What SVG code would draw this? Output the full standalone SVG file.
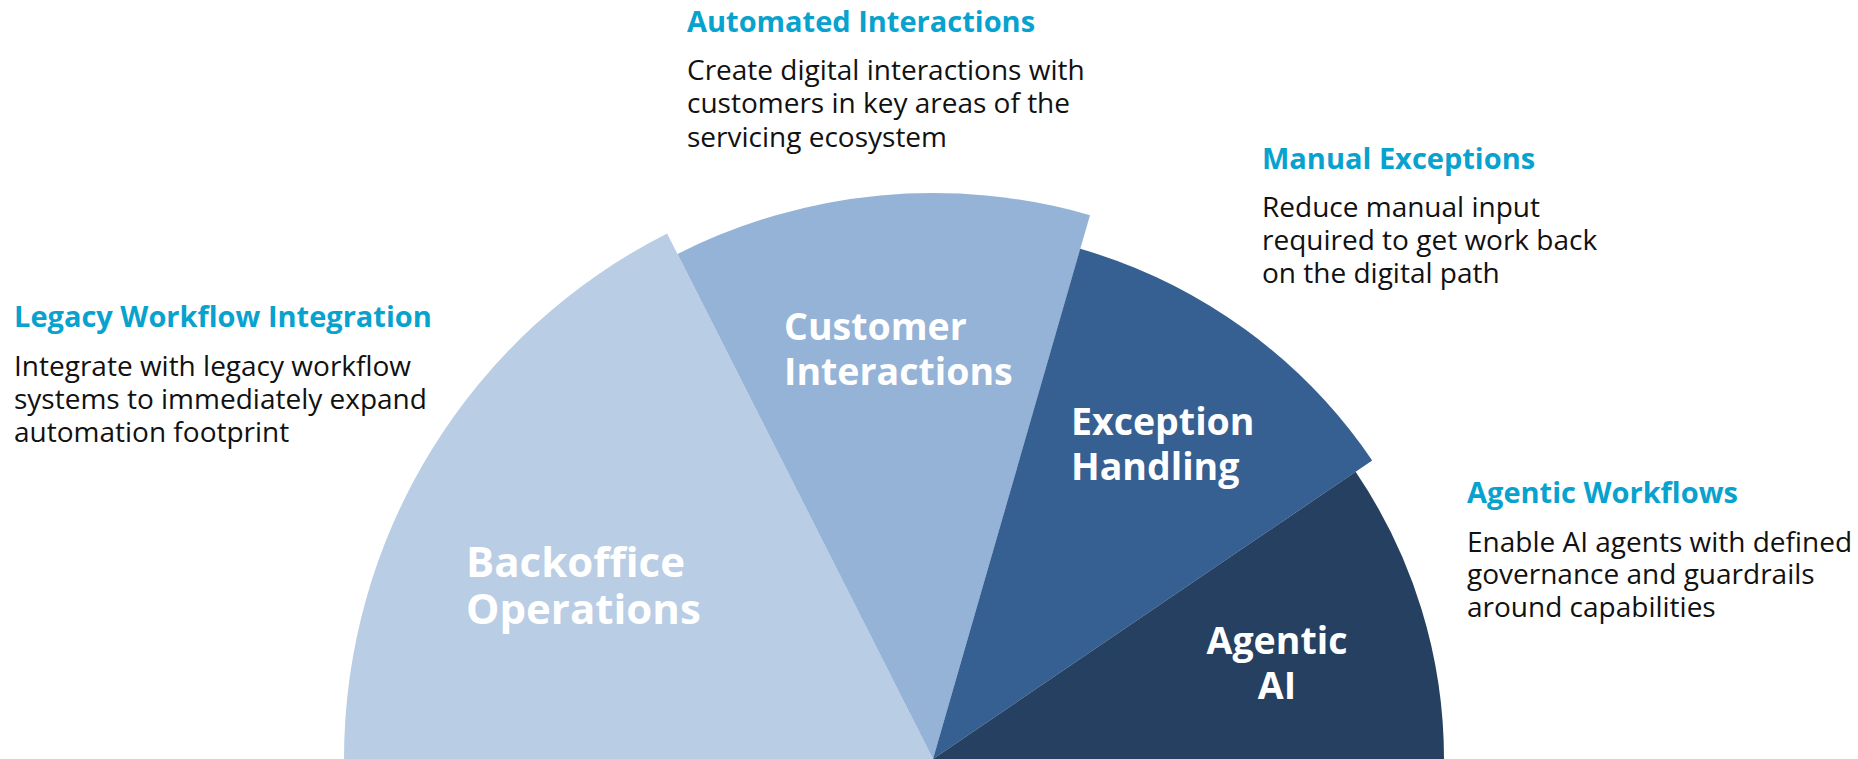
<svg xmlns="http://www.w3.org/2000/svg" width="1858" height="759" viewBox="0 0 1858 759">
  <style>
    .title { font-family: "Open Sans", "Liberation Sans", sans-serif; font-weight: 700; font-size: 29px; fill: #08A2CF; }
    .body { font-family: "Open Sans", "Liberation Sans", sans-serif; font-weight: 400; font-size: 28px; fill: #111111; }
    .label { font-family: "Open Sans", "Liberation Sans", sans-serif; font-weight: 700; font-size: 37.5px; fill: #FFFFFF; }
    .label-lg { font-size: 42px; }
  </style>
  <rect x="0" y="0" width="1858" height="759" fill="#FFFFFF"/>

  <g id="backoffice-operations">
    <path d="M933,759 L344,759 A589,589 0 0 1 667.1,233.4 Z" fill="#B9CDE5"/>
    <text class="label label-lg" x="466" y="577">Backoffice</text>
    <text class="label label-lg" x="466" y="624">Operations</text>
  </g>

  <g id="customer-interactions">
    <path d="M933,759 L677.5,254 A566,566 0 0 1 1090,215.2 Z" fill="#95B3D7"/>
    <text class="label" x="784" y="340">Customer</text>
    <text class="label" x="784" y="385">Interactions</text>
  </g>

  <g id="exception-handling">
    <path d="M933,759 L1080.2,248.8 A531,531 0 0 1 1372.2,460.5 Z" fill="#366092"/>
    <text class="label" x="1071" y="435">Exception</text>
    <text class="label" x="1071" y="480">Handling</text>
  </g>

  <g id="agentic-ai">
    <path d="M933,759 L1355.6,471.8 A511,511 0 0 1 1444,759 Z" fill="#254061"/>
    <text class="label" x="1277" y="654" text-anchor="middle">Agentic</text>
    <text class="label" x="1277" y="699" text-anchor="middle">AI</text>
  </g>

  <g id="automated-interactions">
    <text class="title" x="687" y="32">Automated Interactions</text>
    <text class="body" x="687" y="80">Create digital interactions with</text>
    <text class="body" x="687" y="113">customers in key areas of the</text>
    <text class="body" x="687" y="147">servicing ecosystem</text>
  </g>

  <g id="manual-exceptions">
    <text class="title" x="1262" y="169">Manual Exceptions</text>
    <text class="body" x="1262" y="217">Reduce manual input</text>
    <text class="body" x="1262" y="250">required to get work back</text>
    <text class="body" x="1262" y="283">on the digital path</text>
  </g>

  <g id="legacy-workflow-integration">
    <text class="title" x="14" y="327">Legacy Workflow Integration</text>
    <text class="body" x="14" y="376">Integrate with legacy workflow</text>
    <text class="body" x="14" y="409">systems to immediately expand</text>
    <text class="body" x="14" y="442">automation footprint</text>
  </g>

  <g id="agentic-workflows">
    <text class="title" x="1467" y="503">Agentic Workflows</text>
    <text class="body" x="1467" y="552">Enable AI agents with defined</text>
    <text class="body" x="1467" y="584">governance and guardrails</text>
    <text class="body" x="1467" y="617">around capabilities</text>
  </g>
</svg>
